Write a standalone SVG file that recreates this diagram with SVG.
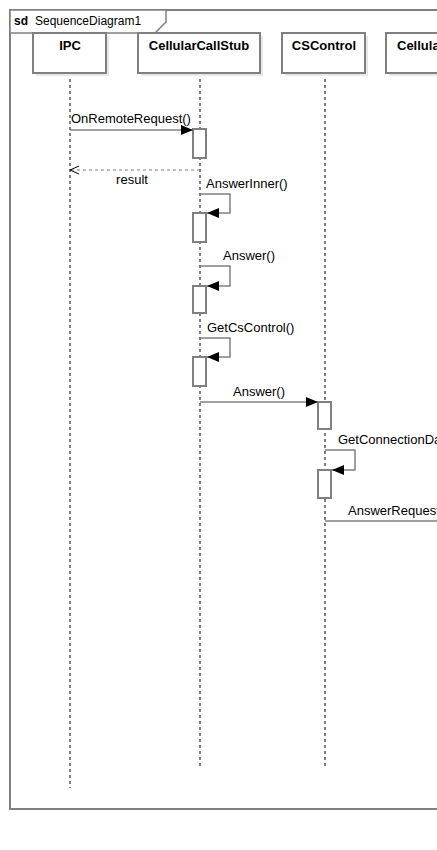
<svg xmlns="http://www.w3.org/2000/svg" width="437" height="850" viewBox="0 0 437 850">
<style>
text{font-family:"Liberation Sans",Arial,sans-serif;fill:#000}
.hdr{font-size:13px;font-weight:bold;text-anchor:middle}
.msg{font-size:13px}
.box{fill:#fff;stroke:#808080;stroke-width:2}
.shadow{fill:#e8e8e8;stroke:none}
.life{stroke:#000;stroke-width:1;stroke-dasharray:3,3;fill:none}
.act{fill:#fff;stroke:#808080;stroke-width:2}
.m{stroke:#808080;stroke-width:1.5;fill:none}
.ret{stroke:#808080;stroke-width:1.2;stroke-dasharray:3,3;fill:none}
</style>
<defs>
<marker id="fill" markerWidth="12" markerHeight="10" refX="12" refY="5" orient="auto" markerUnits="userSpaceOnUse">
<path d="M0,0 L12,5 L0,10 Z" fill="#000"/>
</marker>
<marker id="open" markerWidth="10" markerHeight="10" refX="9" refY="5" orient="auto" markerUnits="userSpaceOnUse">
<path d="M0,1 L9,5 L0,9" fill="none" stroke="#000" stroke-width="1"/>
</marker>
</defs>
<rect width="437" height="850" fill="#fff"/>
<g id="frame">
<rect x="10" y="10" width="440" height="799" fill="none" stroke="#808080" stroke-width="2"/>
<path d="M10,10 L166,10 L166,22 L155,33 L10,33 Z" fill="#fff" stroke="#808080" stroke-width="1.5"/>
<text x="14" y="25" style="font-size:12px;font-weight:bold">sd</text>
<text x="35" y="25" style="font-size:12px">SequenceDiagram1</text>
</g>
<g id="lifelines">
<line class="life" x1="70" y1="73" x2="70" y2="788"/>
<line class="life" x1="200" y1="73" x2="200" y2="767"/>
<line class="life" x1="325" y1="73" x2="325" y2="767"/>
</g>
<g id="IPC">
<rect class="shadow" x="36" y="36" width="73" height="40"/>
<rect class="box" x="33" y="33" width="73" height="40"/>
<text class="hdr" x="70" y="50">IPC</text>
</g>
<g id="CellularCallStub">
<rect class="shadow" x="141" y="36" width="122" height="40"/>
<rect class="box" x="138" y="33" width="122" height="40"/>
<text class="hdr" x="199" y="50">CellularCallStub</text>
</g>
<g id="CSControl">
<rect class="shadow" x="285" y="36" width="83" height="40"/>
<rect class="box" x="282" y="33" width="83" height="40"/>
<text class="hdr" x="324" y="50">CSControl</text>
</g>
<g id="Cellula">
<rect class="shadow" x="389" y="36" width="100" height="40"/>
<rect class="box" x="386" y="33" width="100" height="40"/>
<text class="hdr" x="397" y="50" style="text-anchor:start">Cellula</text>
</g>
<g id="activations">
<rect class="act" x="193" y="129" width="13" height="29"/>
<rect class="act" x="193" y="213" width="13" height="29"/>
<rect class="act" x="193" y="286" width="13" height="27"/>
<rect class="act" x="193" y="357" width="13" height="29"/>
<rect class="act" x="318" y="402" width="13" height="27"/>
<rect class="act" x="318" y="470" width="13" height="28"/>
</g>
<g id="connectors">
<line class="m" x1="70" y1="130" x2="193" y2="130" marker-end="url(#fill)"/>
<text class="msg" x="71" y="123">OnRemoteRequest()</text>
<line class="ret" x1="200" y1="170" x2="70" y2="170" marker-end="url(#open)"/>
<text class="msg" x="132" y="184" text-anchor="middle">result</text>
<path class="m" d="M200,194 L230,194 L230,213 L207,213" marker-end="url(#fill)"/>
<text class="msg" x="206" y="188">AnswerInner()</text>
<path class="m" d="M200,266 L230,266 L230,286 L207,286" marker-end="url(#fill)"/>
<text class="msg" x="223" y="260">Answer()</text>
<path class="m" d="M200,338 L230,338 L230,357 L207,357" marker-end="url(#fill)"/>
<text class="msg" x="207" y="332">GetCsControl()</text>
<line class="m" x1="200" y1="402" x2="318" y2="402" marker-end="url(#fill)"/>
<text class="msg" x="259" y="396" text-anchor="middle">Answer()</text>
<path class="m" d="M325,450 L355,450 L355,470 L332,470" marker-end="url(#fill)"/>
<text class="msg" x="338" y="444">GetConnectionDa</text>
<line class="m" x1="325" y1="521" x2="445" y2="521"/>
<text class="msg" x="348" y="515">AnswerRequest</text>
</g>
</svg>
